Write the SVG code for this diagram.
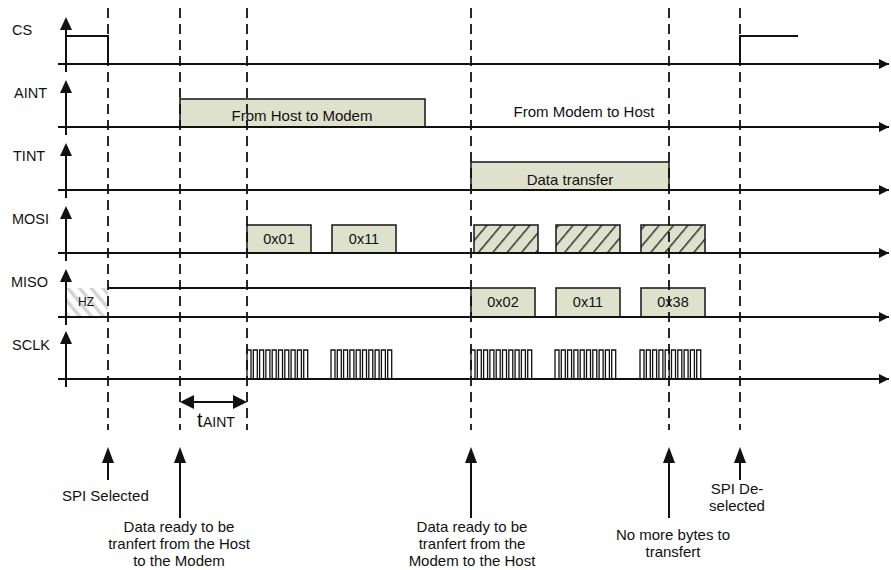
<svg xmlns="http://www.w3.org/2000/svg" xmlns:xlink="http://www.w3.org/1999/xlink" width="891" height="570" viewBox="0 0 891 570">
<style>
text{font-family:"Liberation Sans",Arial,sans-serif;fill:#111}
.lbl{font-size:14.5px}
.t{font-size:15px}
.mid{text-anchor:middle}
.axis{stroke:#111;stroke-width:2;fill:none}
.sig{stroke:#111;stroke-width:2;fill:none}
.box{fill:#dee1cb;stroke:#222;stroke-width:1.6}
.hbox{fill:url(#hatch);stroke:#222;stroke-width:1.6}
.dash{stroke:#111;stroke-width:1.8;stroke-dasharray:10 6;fill:none}
.arr{stroke:#111;stroke-width:2;fill:none}
.head{fill:#111}
</style>
<defs>
<pattern id="hatch" patternUnits="userSpaceOnUse" width="11" height="11" patternTransform="rotate(40)">
<rect width="11" height="11" fill="#dee1cb"/>
<rect x="0" y="0" width="1.5" height="11" fill="#333"/>
</pattern>
<pattern id="hz" patternUnits="userSpaceOnUse" width="9" height="9" patternTransform="rotate(-40)">
<rect width="9" height="9" fill="#fff"/>
<rect x="0" y="0" width="3.5" height="9" fill="#d4d4d4"/>
</pattern>
<marker id="ah" markerUnits="userSpaceOnUse" markerWidth="12" markerHeight="12" refX="10" refY="5" orient="auto">
<path d="M0,0 L10,5 L0,10 Z" fill="#111"/>
</marker>
<path id="burst" d="M0,29 v-29 h4 v29 h2.3 v-29 h4 v29 h2.3 v-29 h4 v29 h2.3 v-29 h4 v29 h2.3 v-29 h4 v29 h2.3 v-29 h4 v29 h2.3 v-29 h4 v29 h2.3 v-29 h4 v29 h2.3 v-29 h4 v29 h2.3 v-29 h4 v29" stroke="#111" stroke-width="1.3" fill="none"/>
</defs>
<rect width="891" height="570" fill="#fff"/>

<g id="row-cs">
<text class="lbl" x="12" y="35">CS</text>
<path class="axis" d="M66,72 V28" />
<path class="head" d="M66,17 L72,30 L60,30 Z"/>
<path class="axis" d="M58,64 H889" marker-end="url(#ah)"/>
<path class="sig" d="M66,36 H108 V64"/>
<path class="sig" d="M740,64 V36 H798"/>
</g>

<g id="row-aint">
<text class="lbl" x="14" y="98">AINT</text>
<path class="axis" d="M66,135 V91"/>
<path class="head" d="M66,80 L72,93 L60,93 Z"/>
<rect class="box" x="180" y="99" width="245" height="28"/>
<path class="axis" d="M58,127 H889" marker-end="url(#ah)"/>
<text class="t mid" x="302" y="121">From Host to Modem</text>
<text class="t mid" x="584" y="117">From Modem to Host</text>
</g>

<g id="row-tint">
<text class="lbl" x="13" y="161">TINT</text>
<path class="axis" d="M66,198 V154"/>
<path class="head" d="M66,143 L72,156 L60,156 Z"/>
<rect class="box" x="471" y="162" width="198" height="28"/>
<path class="axis" d="M58,190 H889" marker-end="url(#ah)"/>
<text class="t mid" x="570" y="185">Data transfer</text>
</g>

<g id="row-mosi">
<text class="lbl" x="12" y="224">MOSI</text>
<path class="axis" d="M66,261 V217"/>
<path class="head" d="M66,206 L72,219 L60,219 Z"/>
<rect class="box" x="247" y="225" width="64" height="28"/>
<rect class="box" x="332" y="225" width="64" height="28"/>
<rect class="hbox" x="474" y="225" width="64" height="28"/>
<rect class="hbox" x="556" y="225" width="64" height="28"/>
<rect class="hbox" x="641" y="225" width="64" height="28"/>
<path class="axis" d="M58,253 H889" marker-end="url(#ah)"/>
<text class="lbl mid" x="279" y="244">0x01</text>
<text class="lbl mid" x="364" y="244">0x11</text>
</g>

<g id="row-miso">
<text class="lbl" x="11" y="287">MISO</text>
<rect x="67" y="288" width="41" height="29" fill="url(#hz)"/>
<path class="axis" d="M66,325 V280"/>
<path class="head" d="M66,269 L72,282 L60,282 Z"/>
<path class="sig" d="M108,288 H471"/>
<rect class="box" x="471" y="288" width="64" height="29"/>
<rect class="box" x="556" y="288" width="64" height="29"/>
<rect class="box" x="641" y="288" width="64" height="29"/>
<path class="axis" d="M58,317 H889" marker-end="url(#ah)"/>
<text style="font-size:12px" x="78" y="306">HZ</text>
<text class="lbl mid" x="503" y="307">0x02</text>
<text class="lbl mid" x="588" y="307">0x11</text>
<text class="lbl mid" x="673" y="307">0x38</text>
</g>

<g id="row-sclk">
<text class="lbl" x="12" y="350">SCLK</text>
<path class="axis" d="M66,387 V342"/>
<path class="head" d="M66,331 L72,344 L60,344 Z"/>
<use href="#burst" xlink:href="#burst" x="247" y="350"/>
<use href="#burst" xlink:href="#burst" x="331" y="350"/>
<use href="#burst" xlink:href="#burst" x="471" y="350"/>
<use href="#burst" xlink:href="#burst" x="555" y="350"/>
<use href="#burst" xlink:href="#burst" x="640" y="350"/>
<path class="axis" d="M58,379 H889" marker-end="url(#ah)"/>
</g>

<g id="connectors">
<path class="dash" d="M108,8 V430 M180,8 V430 M247,8 V430 M471,8 V430 M669,8 V430 M740,8 V430"/>
<path class="arr" d="M192,402 H235"/>
<path class="head" d="M180,402 L194,395 L194,409 Z"/>
<path class="head" d="M247,402 L233,395 L233,409 Z"/>
<path class="arr" d="M108,460 V480 M180,460 V518 M471,460 V518 M669,460 V518 M740,460 V480"/>
<path class="head" d="M108,447 L114,463 L102,463 Z"/>
<path class="head" d="M180,447 L186,463 L174,463 Z"/>
<path class="head" d="M471,447 L477,463 L465,463 Z"/>
<path class="head" d="M669,447 L675,463 L663,463 Z"/>
<path class="head" d="M740,447 L746,463 L734,463 Z"/>
</g>

<g id="t-aint">
<text x="197" y="427" style="font-size:20px">t</text>
<text x="203" y="427" style="font-size:14px">AINT</text>
</g>

<g id="events">
<text class="t" x="62" y="501">SPI Selected</text>
<text class="t mid" x="179" y="532">Data ready to be</text>
<text class="t mid" x="179" y="549">tranfert from the Host</text>
<text class="t mid" x="179" y="566">to the Modem</text>
<text class="t mid" x="472" y="532">Data ready to be</text>
<text class="t mid" x="472" y="549">tranfert from the</text>
<text class="t mid" x="472" y="566">Modem to the Host</text>
<text class="t mid" x="673" y="540">No more bytes to</text>
<text class="t mid" x="673" y="557">transfert</text>
<text class="t mid" x="737" y="494">SPI De-</text>
<text class="t mid" x="737" y="511">selected</text>
</g>
</svg>
